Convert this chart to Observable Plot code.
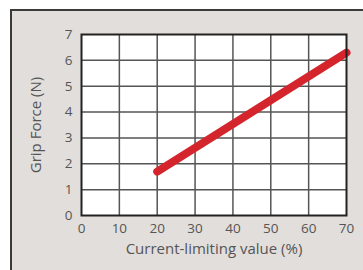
<!DOCTYPE html>
<html>
<head>
<meta charset="utf-8">
<script src="https://cdn.jsdelivr.net/npm/d3@7"></script>
<script src="https://cdn.jsdelivr.net/npm/@observablehq/plot@0.6"></script>
<style>
  html, body { margin: 0; padding: 0; background: #ffffff; width: 363px; height: 270px; overflow: hidden; }
  #bg { position: absolute; left: 10px; top: 9px; width: 400px; height: 300px; background: #e2dedb;
        border-left: 2px solid #3a3a3a; border-top: 2px solid #3a3a3a; }
  #chart { position: absolute; left: 0; top: 0; }
</style>
</head>
<body>
<div id="bg"></div>
<div id="chart"></div>
<script>
const currentLimiting = [20, 70];
const gripForce = [1.7, 6.3];
const xTicks = [0, 10, 20, 30, 40, 50, 60, 70];
const yTicks = [0, 1, 2, 3, 4, 5, 6, 7];
const xLabel = "Current-limiting value (%)";
const yLabel = "Grip Force (N)";

const data = currentLimiting.map((x, i) => ({x, y: gripForce[i]}));
const innerX = xTicks.slice(1, -1);
const innerY = yTicks.slice(1, -1);

const chart = Plot.plot({
  width: 363,
  height: 270,
  marginLeft: 81,
  marginRight: 17,
  marginTop: 34,
  marginBottom: 55,
  style: { background: "transparent", fontFamily: "'Open Sans', sans-serif", fontSize: "14px", color: "#555" },
  x: { domain: [0, 70] },
  y: { domain: [0, 7] },
  marks: [
    Plot.frame({ fill: "white" }),
    Plot.ruleX(innerX, { stroke: "#555", strokeWidth: 1.5 }),
    Plot.ruleY(innerY, { stroke: "#555", strokeWidth: 1.5 }),
    Plot.line(data, { x: "x", y: "y", stroke: "#d4252d", strokeWidth: 8, strokeLinecap: "round" }),
    Plot.frame({ stroke: "#222", strokeWidth: 2 }),
    Plot.axisX(xTicks, { tickSize: 0, tickPadding: 8, label: null, fill: "#555", fontSize: 13.5 }),
    Plot.axisY(yTicks, { tickSize: 0, tickPadding: 9, label: null, fill: "#555", fontSize: 13.5 }),
    Plot.text([xLabel], { frameAnchor: "bottom", dy: 38, fill: "#555", fontSize: 15 }),
    Plot.text([yLabel], { frameAnchor: "left", textAnchor: "middle", dx: -45, rotate: -90, fill: "#555", fontSize: 15 })
  ]
});
document.getElementById("chart").appendChild(chart);
</script>
</body>
</html>
